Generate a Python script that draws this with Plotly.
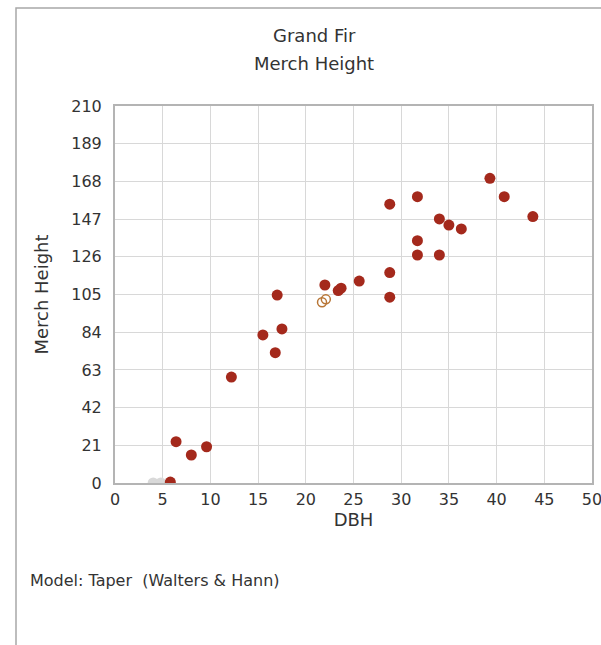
import plotly.graph_objects as go

# Observed trees (DBH vs merch height)
dbh_obs = [5.8, 6.4, 8.0, 9.6, 12.2, 15.5, 16.8, 17.0, 17.5, 22.0, 23.4, 23.7, 25.6,
           28.8, 28.8, 28.8, 31.7, 31.7, 31.7, 34.0, 34.0, 35.0, 36.3, 39.3, 40.8, 43.8]
ht_obs = [0.5, 23.0, 15.6, 20.2, 59.0, 82.5, 72.6, 104.7, 85.8, 110.3, 107.2, 108.5, 112.5,
          155.3, 117.2, 103.5, 159.5, 135.0, 127.0, 147.1, 127.0, 143.7, 141.5, 169.7, 159.5, 148.4]

# Zero-height (non-merch) trees
dbh_zero = [4.0, 4.8]
ht_zero = [0, 0]

# Highlighted (hollow) trees
dbh_hl = [21.7, 22.1]
ht_hl = [100.7, 102.3]

x_ticks = [0, 5, 10, 15, 20, 25, 30, 35, 40, 45, 50]
y_ticks = [0, 21, 42, 63, 84, 105, 126, 147, 168, 189, 210]

FONT = "DejaVu Sans"
TXT = "#333333"

fig = go.Figure()
fig.add_trace(go.Scatter(x=dbh_zero, y=ht_zero, mode="markers",
                         marker=dict(size=11, color="#d9d9d9"), showlegend=False))
fig.add_trace(go.Scatter(x=dbh_obs, y=ht_obs, mode="markers",
                         marker=dict(size=11, color="#a4291c"), showlegend=False))
fig.add_trace(go.Scatter(x=dbh_hl, y=ht_hl, mode="markers",
                         marker=dict(size=9, color="rgba(0,0,0,0)",
                                     line=dict(color="#b87636", width=1.5)),
                         showlegend=False))

W, H = 601, 645
L, R, T, B = 115, 592, 106, 483
def px(xp):
    return (xp - L) / (R - L)
def py(yp):
    return (B - yp) / (B - T)

fig.update_layout(
    width=W, height=H,
    margin=dict(l=L, r=W - R, t=T, b=H - B, autoexpand=False),
    paper_bgcolor="white", plot_bgcolor="white",
    font=dict(family=FONT, size=16, color=TXT),
    xaxis=dict(range=[0, 50], tickvals=x_ticks, ticktext=[str(v) for v in x_ticks],
               showgrid=True, gridcolor="#d8d8d8", gridwidth=1,
               showline=True, linecolor="#b4b4b4", linewidth=2, mirror=True,
               zeroline=False, ticks="", ticklabelstandoff=1,
               ticklabeloverflow="allow",
               tickfont=dict(size=16),
               title=dict(text="DBH", standoff=0, font=dict(size=18)),
               automargin=False),
    yaxis=dict(range=[0, 210], tickvals=y_ticks, ticktext=[str(v) for v in y_ticks],
               showgrid=True, gridcolor="#d8d8d8", gridwidth=1,
               showline=True, linecolor="#b4b4b4", linewidth=2, mirror=True,
               zeroline=False, ticks="", ticklabelstandoff=8,
               tickfont=dict(size=16),
               title=dict(text="Merch Height", standoff=18, font=dict(size=18)),
               automargin=False),
    annotations=[
        dict(text="Grand Fir", x=px(314), y=py(36), xref="paper", yref="paper",
             xanchor="center", yanchor="middle",
             showarrow=False, font=dict(size=18, color=TXT)),
        dict(text="Merch Height", x=px(314), y=py(64), xref="paper", yref="paper",
             xanchor="center", yanchor="middle",
             showarrow=False, font=dict(size=18, color=TXT)),
        dict(text="Model: Taper  (Walters &amp; Hann)", x=px(28), y=py(580),
             xref="paper", yref="paper", xanchor="left", yanchor="middle",
             showarrow=False, font=dict(size=16, color=TXT)),
    ],
    shapes=[
        dict(type="rect", xref="paper", yref="paper",
             x0=px(16), x1=px(700), y0=py(720), y1=py(8),
             line=dict(color="#a8a8a8", width=1.5), layer="below"),
    ],
)

fig.write_html("out.html",
               config={"displayModeBar": False},
               post_script="document.body.style.margin='0';"
                           "document.body.style.overflow='hidden';")
